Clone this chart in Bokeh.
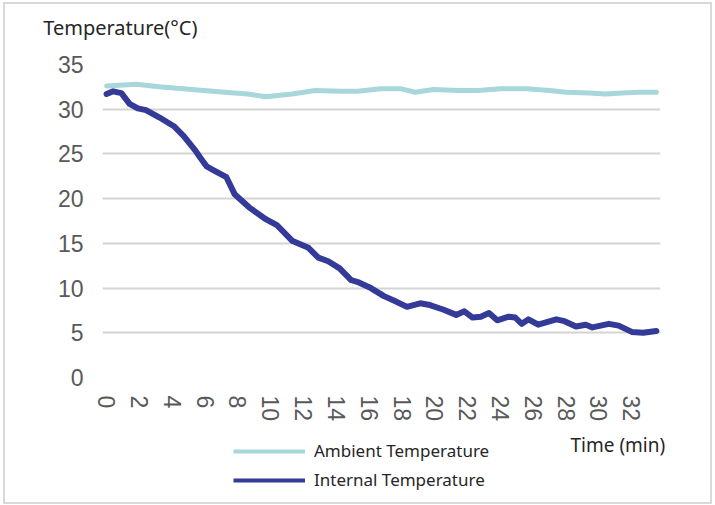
from bokeh.plotting import figure
from bokeh.layouts import column
from bokeh.models import Range1d, FixedTicker, Legend, LegendItem, Label
from bokeh.embed import file_html
from bokeh.resources import INLINE

# ---- data ----
internal_time = [0.0, 0.4, 0.9, 1.4, 1.9, 2.4, 3.2, 4.1, 4.7, 5.4, 5.7, 6.1, 6.5, 7.3, 7.8,
                 8.7, 9.7, 10.4, 11.3, 12.3, 12.9, 13.5, 14.2, 14.9, 15.4, 16.1, 16.9, 17.5,
                 18.3, 19.1, 19.7, 20.5, 21.3, 21.8, 22.3, 22.8, 23.3, 23.8, 24.5, 24.9, 25.3,
                 25.7, 26.3, 27.4, 27.9, 28.6, 29.2, 29.6, 30.6, 31.2, 32.0, 32.7, 33.5]
internal_temp = [31.7, 32.0, 31.8, 30.6, 30.1, 29.9, 29.1, 28.1, 27.0, 25.4, 24.6, 23.6, 23.2,
                 22.4, 20.5, 19.0, 17.7, 17.0, 15.3, 14.5, 13.4, 13.0, 12.2, 10.9, 10.6, 10.0,
                 9.1, 8.6, 7.9, 8.3, 8.1, 7.6, 7.0, 7.4, 6.7, 6.8, 7.2, 6.4, 6.8, 6.7, 6.0,
                 6.5, 5.9, 6.5, 6.3, 5.7, 5.9, 5.6, 6.0, 5.8, 5.1, 5.0, 5.2]

ambient_time = [0.0, 1.8, 3.2, 5.2, 7.2, 8.6, 9.7, 11.3, 12.7, 14.3, 15.3, 16.7, 17.9, 18.8,
                19.9, 21.4, 22.6, 24.0, 25.6, 27.0, 28.0, 29.4, 30.4, 31.4, 32.4, 33.5]
ambient_temp = [32.6, 32.8, 32.5, 32.2, 31.9, 31.7, 31.4, 31.7, 32.1, 32.0, 32.0, 32.3, 32.3,
                31.9, 32.2, 32.1, 32.1, 32.3, 32.3, 32.1, 31.9, 31.8, 31.7, 31.8, 31.9, 31.9]

x_ticks = list(range(0, 33, 2))
y_ticks = [0, 5, 10, 15, 20, 25, 30, 35]

series_names = ["Ambient Temperature", "Internal Temperature"]
y_title = "Temperature(°C)"
x_title = "Time (min)"

AMBIENT_COLOR = "#A7D6DB"
INTERNAL_COLOR = "#333A98"
TEXT_FONT = "Noto Sans"
TITLE_COLOR = "#262626"
W = 705
NAN = float("nan")


def text_strip(height):
    """A figure with no axes whose frame fills it, used for texts around the chart."""
    f = figure(width=W, height=height, output_backend="svg", toolbar_location=None,
               x_range=Range1d(0, W), y_range=Range1d(0, height), min_border=0,
               x_axis_location=None, y_axis_location=None, frame_align=False)
    f.outline_line_color = None
    f.grid.visible = False
    f.background_fill_color = "white"
    f.border_fill_color = "white"
    return f


# ---- top strip: y-axis title ----
top = text_strip(46)
top.add_layout(Label(x=37.7, y=23.3, text=y_title, text_font=TEXT_FONT,
                     text_font_size="20px", text_color=TITLE_COLOR,
                     text_align="left", text_baseline="alphabetic"))

# ---- main chart ----
p = figure(width=W, height=378, output_backend="svg", toolbar_location=None,
           x_range=Range1d(-0.25, 33.75), y_range=Range1d(0, 35), frame_align=False,
           min_border_left=97, min_border_right=50, min_border_top=14, min_border_bottom=51)
p.outline_line_color = None
p.background_fill_color = "white"
p.border_fill_color = "white"

p.xaxis.ticker = FixedTicker(ticks=x_ticks)
p.yaxis.ticker = FixedTicker(ticks=y_ticks)
for ax in (p.xaxis, p.yaxis):
    ax.axis_line_color = None
    ax.major_tick_line_color = None
    ax.minor_tick_line_color = None
    ax.major_label_text_font = "Liberation Sans"
    ax.major_label_text_font_size = "23px"
    ax.major_label_text_color = "#595959"
p.xaxis.major_label_orientation = "vertical"
p.xaxis.major_label_standoff = 12
p.yaxis.major_label_standoff = 13

p.xgrid.grid_line_color = None
p.ygrid.grid_line_color = "#d4d4d4"
p.ygrid.grid_line_width = 2

p.line(ambient_time, ambient_temp, line_color=AMBIENT_COLOR, line_width=5,
       line_join="round", line_cap="round")
p.line(internal_time, internal_temp, line_color=INTERNAL_COLOR, line_width=6,
       line_join="round", line_cap="round")

# ---- bottom strip: legend and x-axis title ----
bottom = text_strip(74)
bottom.add_layout(Label(x=565, y=57.3, text=x_title, text_font=TEXT_FONT,
                        text_font_size="19px", text_color=TITLE_COLOR,
                        text_align="left", text_baseline="alphabetic"))
# legend-only samples (no visible points)
l_amb = bottom.line([NAN], [NAN], line_color=AMBIENT_COLOR, line_width=4)
l_int = bottom.line([NAN], [NAN], line_color=INTERNAL_COLOR, line_width=4)
legend = Legend(items=[LegendItem(label=series_names[0], renderers=[l_amb]),
                       LegendItem(label=series_names[1], renderers=[l_int])],
                location=(228, 11), orientation="vertical",
                padding=0, margin=0, spacing=6, glyph_width=72, glyph_height=20,
                label_height=20, label_standoff=9,
                label_text_font=TEXT_FONT, label_text_font_size="17px",
                label_text_color=TITLE_COLOR, border_line_color=None,
                background_fill_alpha=0)
bottom.add_layout(legend, "center")

layout = column(top, p, bottom, spacing=0,
                styles={"border": "2px solid #d9d9d9", "margin-left": "3px",
                        "margin-top": "2px", "background-color": "white"})

open("out.html", "w").write(file_html(layout, INLINE))
